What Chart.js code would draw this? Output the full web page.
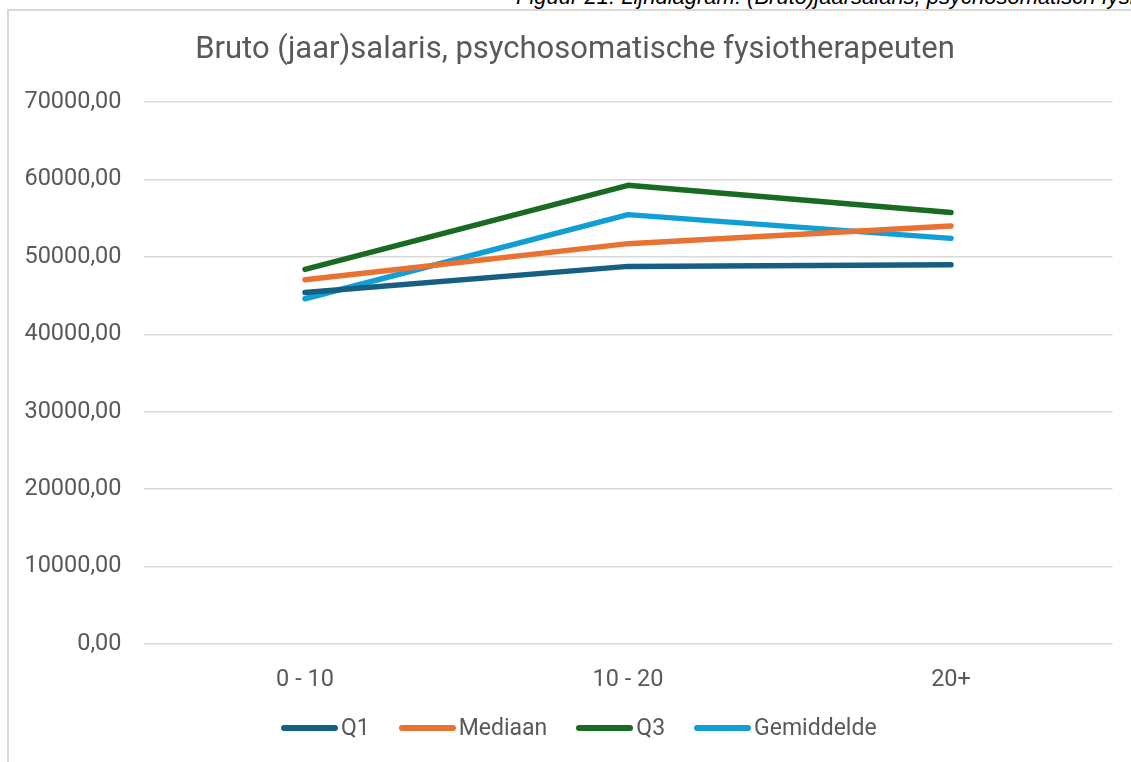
<!DOCTYPE html>
<html>
<head>
<meta charset="utf-8">
<script src="https://cdn.jsdelivr.net/npm/chart.js@4"></script>
<style>
  html, body { margin: 0; padding: 0; background: #fff; overflow: hidden; width: 1131px; height: 762px; }
  #caption {
    position: absolute; left: 516px; top: -16px; white-space: nowrap;
    font: italic 22px "Liberation Sans", Arial, sans-serif; color: #000;
  }
  #box {
    position: absolute; left: 7px; top: 9px; width: 1140px; height: 770px;
    border: 2px solid #d9d9d9; box-sizing: border-box;
  }
  #wrap { position: absolute; left: 9px; top: 11px; width: 1132px; height: 751px; }
  #legend {
    position: absolute; left: 281px; top: 714px; display: flex; gap: 29px;
    font: 23px Roboto, sans-serif; color: #595959; white-space: nowrap;
  }
  #legend .item { display: flex; align-items: center; }
  #legend .swatch { width: 57px; height: 6px; border-radius: 3px; margin-right: 3px; }
</style>
</head>
<body>
<div id="caption">Figuur 21: Lijndiagram: (Bruto)jaarsalaris, psychosomatisch fysiotherapeuten</div>
<div id="box"></div>
<div id="wrap"><canvas id="chart"></canvas></div>
<div id="legend"></div>
<script>
// DATA
const categories = ['0 - 10', '10 - 20', '20+'];
const q1 = [45400, 48780, 49000];
const mediaan = [47060, 51720, 54000];
const q3 = [48400, 59260, 55730];
const gemiddelde = [44600, 55470, 52400];

const seriesNames = ['Q1', 'Mediaan', 'Q3', 'Gemiddelde'];
const seriesColors = ['#156082', '#E97132', '#196B24', '#0F9ED5'];
const seriesData = [q1, mediaan, q3, gemiddelde];

const ctx = document.getElementById('chart').getContext('2d');

const datasets = seriesNames.map((name, i) => ({
  label: name,
  data: seriesData[i],
  borderColor: seriesColors[i],
  backgroundColor: seriesColors[i],
  borderWidth: 5.5,
  borderCapStyle: 'round',
  borderJoinStyle: 'round',
  pointRadius: 0,
  fill: false,
  tension: 0
}));

// HTML legend built from datasets
const legendEl = document.getElementById('legend');
datasets.forEach(ds => {
  const item = document.createElement('div');
  item.className = 'item';
  item.innerHTML = `<span class="swatch" style="background:${ds.borderColor}"></span>${ds.label}`;
  legendEl.appendChild(item);
});

const tickFont = { family: 'Roboto', size: 23.5 };

const myChart = new Chart(ctx, {
  type: 'line',
  data: { labels: categories, datasets: datasets },
  options: {
    responsive: true,
    maintainAspectRatio: false,
    animation: false,
    layout: { padding: { left: 0, right: 0, top: 0, bottom: 46 } },
    plugins: {
      legend: { display: false },
      tooltip: { enabled: false },
      title: {
        display: true,
        text: 'Bruto (jaar)salaris, psychosomatische fysiotherapeuten',
        color: '#595959',
        font: { family: 'Roboto', size: 31, weight: 'normal' },
        padding: { top: 21, bottom: 33 }
      }
    },
    scales: {
      x: {
        offset: true,
        grid: { display: false, drawTicks: false },
        border: { display: false },
        ticks: { color: '#595959', font: tickFont, padding: 22 }
      },
      y: {
        min: 0,
        max: 70000,
        afterFit: (scale) => { scale.width = 134.5; },
        grid: { color: '#d9d9d9', lineWidth: 1.5, drawTicks: false },
        border: { display: false },
        ticks: {
          stepSize: 10000,
          color: '#595959',
          font: tickFont,
          padding: 22,
          callback: v => v.toFixed(2).replace('.', ',')
        }
      },
      // empty right-hand space so the title stays centred on the whole box
      yRight: {
        position: 'right',
        display: true,
        grid: { display: false, drawTicks: false },
        border: { display: false },
        ticks: { display: false },
        afterFit: (scale) => { scale.width = 28.5; }
      }
    }
  }
});
</script>
</body>
</html>
